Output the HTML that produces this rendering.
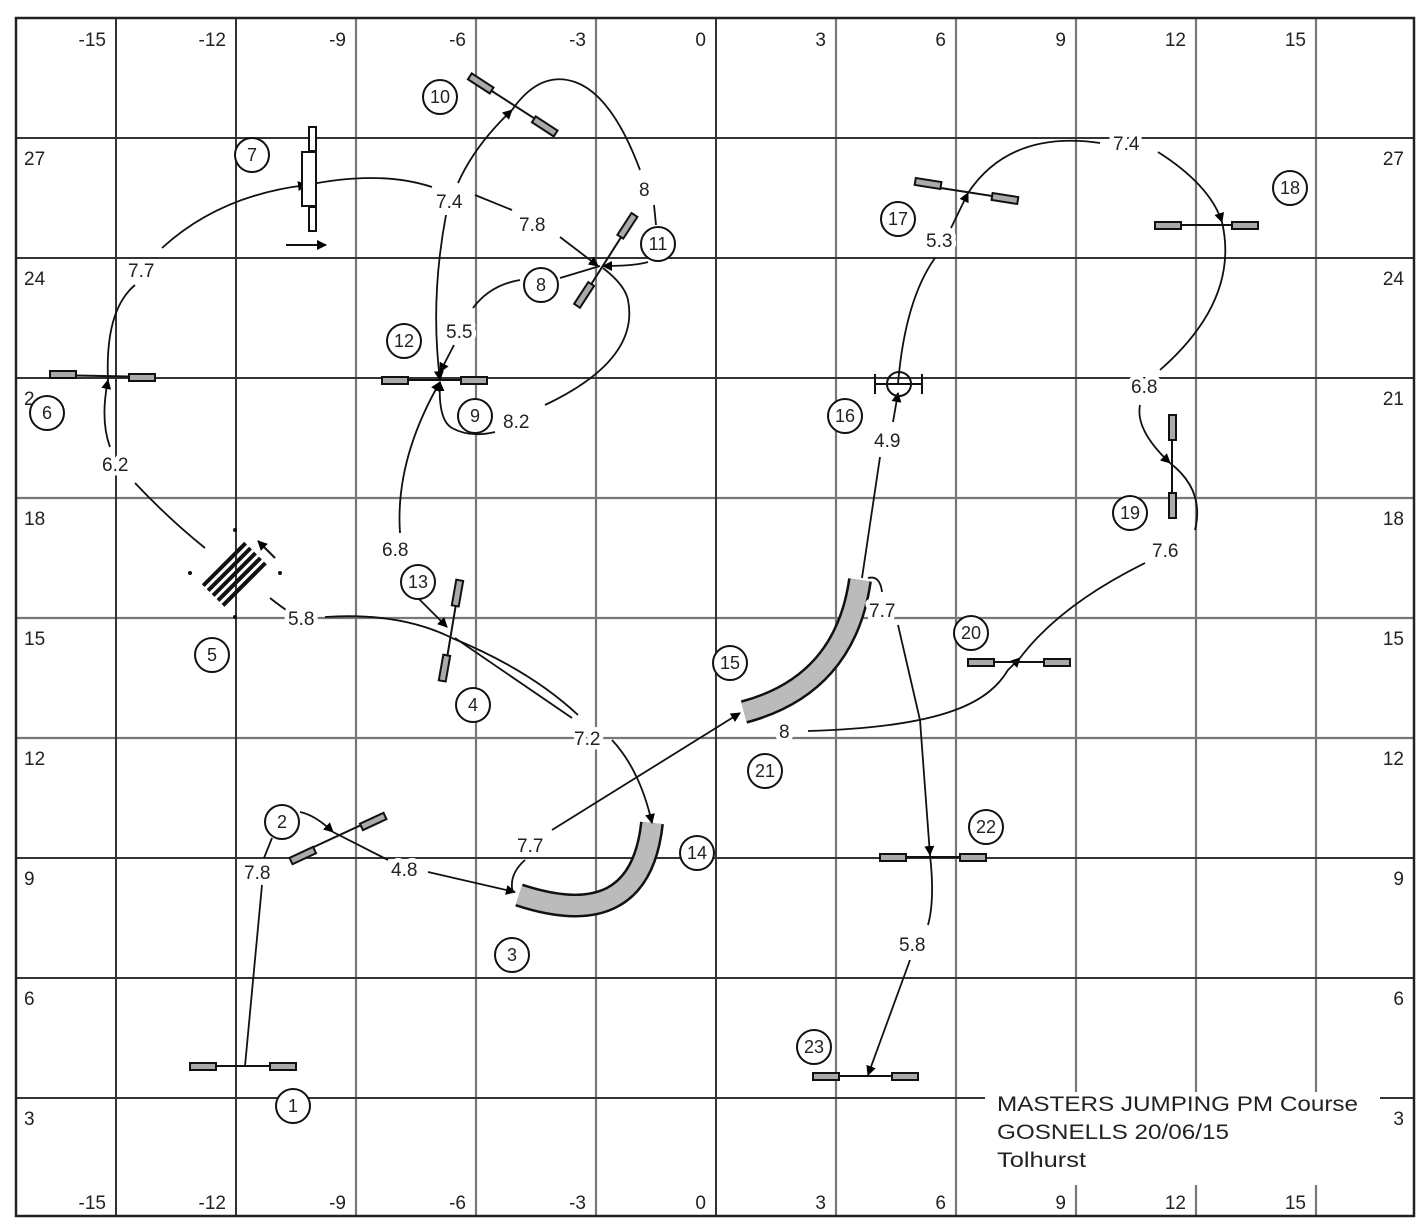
<!DOCTYPE html>
<html><head><meta charset="utf-8"><style>
html,body{margin:0;padding:0;background:#fff}
svg{display:block}
text{font-family:"Liberation Sans",sans-serif;fill:#222}
.ax{font-size:19px}
.lb{font-size:19px;stroke:#fff;stroke-width:9px;paint-order:stroke;stroke-linejoin:round}
.cn{font-size:18px;text-anchor:middle}
</style></head><body>
<svg width="1428" height="1230" viewBox="0 0 1428 1230" xmlns="http://www.w3.org/2000/svg">
<defs>
<marker id="a" markerWidth="10" markerHeight="10" refX="9" refY="5" orient="auto" markerUnits="userSpaceOnUse"><path d="M0,0 L10,5 L0,10 z" fill="#000"/></marker>
</defs>
<rect width="1428" height="1230" fill="#fff"/>
<g stroke="#777" stroke-width="2.2" fill="none">
<line x1="356" y1="18" x2="356" y2="1216"/><line x1="476" y1="18" x2="476" y2="1216"/><line x1="596" y1="18" x2="596" y2="1216"/>
<line x1="836" y1="18" x2="836" y2="1216"/><line x1="956" y1="18" x2="956" y2="1216"/>
<line x1="1076" y1="18" x2="1076" y2="1092"/><line x1="1196" y1="18" x2="1196" y2="1092"/><line x1="1316" y1="18" x2="1316" y2="1092"/>
<line x1="1076" y1="1185" x2="1076" y2="1216"/><line x1="1196" y1="1185" x2="1196" y2="1216"/><line x1="1316" y1="1185" x2="1316" y2="1216"/>
<line x1="16" y1="498" x2="1414" y2="498"/><line x1="16" y1="618" x2="1414" y2="618"/><line x1="16" y1="738" x2="1414" y2="738"/>
</g>
<g stroke="#333" stroke-width="2" fill="none">
<line x1="116" y1="18" x2="116" y2="1216"/><line x1="236" y1="18" x2="236" y2="1216"/><line x1="716" y1="18" x2="716" y2="1216"/>
<line x1="16" y1="138" x2="1414" y2="138"/><line x1="16" y1="258" x2="1414" y2="258"/><line x1="16" y1="378" x2="1414" y2="378"/>
<line x1="16" y1="858" x2="1414" y2="858"/><line x1="16" y1="978" x2="1414" y2="978"/>
<line x1="16" y1="1098" x2="985" y2="1098"/><line x1="1380" y1="1098" x2="1414" y2="1098"/>
<rect x="16" y="18" width="1398" height="1198" stroke="#222" stroke-width="2.5"/>
</g>
<g class="ax" text-anchor="end">
<text x="106" y="46">-15</text><text x="226" y="46">-12</text><text x="346" y="46">-9</text><text x="466" y="46">-6</text><text x="586" y="46">-3</text><text x="706" y="46">0</text><text x="826" y="46">3</text><text x="946" y="46">6</text><text x="1066" y="46">9</text><text x="1186" y="46">12</text><text x="1306" y="46">15</text>
<text x="106" y="1209">-15</text><text x="226" y="1209">-12</text><text x="346" y="1209">-9</text><text x="466" y="1209">-6</text><text x="586" y="1209">-3</text><text x="706" y="1209">0</text><text x="826" y="1209">3</text><text x="946" y="1209">6</text><text x="1066" y="1209">9</text><text x="1186" y="1209">12</text><text x="1306" y="1209">15</text>
<text x="1404" y="165">27</text><text x="1404" y="285">24</text><text x="1404" y="405">21</text><text x="1404" y="525">18</text><text x="1404" y="645">15</text><text x="1404" y="765">12</text><text x="1404" y="885">9</text><text x="1404" y="1005">6</text><text x="1404" y="1125">3</text>
</g>
<g class="ax">
<text x="24" y="165">27</text><text x="24" y="285">24</text><text x="24" y="405">2</text><text x="24" y="525">18</text><text x="24" y="645">15</text><text x="24" y="765">12</text><text x="24" y="885">9</text><text x="24" y="1005">6</text><text x="24" y="1125">3</text>
</g>
<g fill="none" stroke-linecap="butt">
<path d="M519 895 Q 640 935 652 823" stroke="#111" stroke-width="24"/>
<path d="M519 895 Q 640 935 652 823" stroke="#bbb" stroke-width="19"/>
<path d="M744 712 Q 845 685 860 580" stroke="#111" stroke-width="24"/>
<path d="M744 712 Q 845 685 860 580" stroke="#bbb" stroke-width="19"/>
</g>
<g fill="none" stroke="#111" stroke-width="1.8">
<path d="M245 1066 L262 885"/><path d="M264 858 L272 838"/>
<path d="M300 812 Q315 815 333 832" marker-end="url(#a)"/><path d="M333 832 L388 860"/>
<path d="M428 872 L515 892" marker-end="url(#a)"/>
<path d="M513 893 Q508 875 525 860"/>
<path d="M552 830 L740 713" marker-end="url(#a)"/>
<path d="M270 598 Q280 606 292 614"/>
<path d="M325 617 Q400 612 452 638"/><path d="M452 638 Q530 670 578 715"/>
<path d="M418 598 L447 627" marker-end="url(#a)"/>
<path d="M455 638 L572 718"/>
<path d="M612 740 Q640 770 652 823" marker-end="url(#a)"/>
<path d="M400 533 Q395 460 440 382" marker-end="url(#a)"/>
<path d="M808 731 C950 727 990 700 1008 670 L1020 658" marker-end="url(#a)"/><path d="M1020 658 Q1060 605 1145 563"/>
<path d="M862 578 L880 457"/><path d="M893 422 L898 393" marker-end="url(#a)"/>
<path d="M898 384 Q905 300 935 258"/><path d="M951 228 L968 193" marker-end="url(#a)"/>
<path d="M968 193 Q1010 130 1100 143"/>
<path d="M1158 152 Q1210 185 1222 222" marker-end="url(#a)"/><path d="M1222 222 Q1240 300 1160 370"/>
<path d="M1140 405 Q1135 430 1170 463" marker-end="url(#a)"/><path d="M1170 463 Q1205 490 1195 530"/>
<path d="M868 578 Q880 575 882 592"/>
<path d="M898 625 L920 720 L930 855" marker-end="url(#a)"/><path d="M930 855 Q935 900 928 925"/>
<path d="M910 960 L868 1075" marker-end="url(#a)"/>
<path d="M110 447 Q100 420 108 380" marker-end="url(#a)"/><path d="M108 380 Q105 310 135 285"/>
<path d="M162 248 Q220 195 307 185" marker-end="url(#a)"/><path d="M307 185 Q380 170 432 187"/>
<path d="M475 195 L512 210"/><path d="M560 237 L598 266" marker-end="url(#a)"/>
<path d="M458 183 Q475 145 512 110" marker-end="url(#a)"/><path d="M512 110 Q540 70 575 82 Q612 95 640 170"/>
<path d="M446 215 Q430 300 440 380" marker-end="url(#a)"/>
<path d="M654 205 L656 225"/><path d="M648 262 Q635 266 603 266" marker-end="url(#a)"/>
<path d="M603 268 Q625 285 628 300 Q640 360 545 405"/>
<path d="M495 432 Q470 438 452 428 Q438 420 440 382" marker-end="url(#a)"/>
<path d="M454 345 L440 372" marker-end="url(#a)"/>
<path d="M473 308 Q490 285 520 280"/><path d="M560 278 L600 266"/>
<path d="M135 483 Q170 520 205 548"/>
</g>
<g stroke="#111" stroke-width="2" fill="#aaa">
<line x1="190" y1="1066" x2="296" y2="1066"/><rect x="190" y="1063" width="26" height="7"/><rect x="270" y="1063" width="26" height="7"/>
<line x1="290" y1="858" x2="385" y2="814"/><rect x="290" y="852" width="26" height="7" transform="rotate(-25 303 856)"/><rect x="360" y="818" width="26" height="7" transform="rotate(-25 373 821)"/>
<line x1="443" y1="682" x2="460" y2="580"/><rect x="454" y="580" width="7" height="26" transform="rotate(10 457 593)"/><rect x="441" y="655" width="7" height="26" transform="rotate(10 444 668)"/>
<line x1="50" y1="375" x2="155" y2="377"/><rect x="50" y="371" width="26" height="7"/><rect x="129" y="374" width="26" height="7"/>
<line x1="382" y1="380" x2="487" y2="380"/><rect x="382" y="377" width="26" height="7"/><rect x="461" y="377" width="26" height="7"/>
<line x1="470" y1="77" x2="557" y2="133"/><rect x="468" y="80" width="26" height="7" transform="rotate(33 481 83)"/><rect x="532" y="123" width="26" height="7" transform="rotate(33 545 126)"/>
<line x1="578" y1="305" x2="632" y2="220"/><rect x="618" y="228" width="26" height="7" transform="rotate(-57 624 232)"/><rect x="572" y="292" width="26" height="7" transform="rotate(-57 584 296)"/>
<line x1="915" y1="184" x2="1018" y2="200"/><rect x="915" y="180" width="26" height="7" transform="rotate(9 928 184)"/><rect x="992" y="195" width="26" height="7" transform="rotate(9 1005 198)"/>
<line x1="1155" y1="225" x2="1258" y2="225"/><rect x="1155" y="222" width="26" height="7"/><rect x="1232" y="222" width="26" height="7"/>
<line x1="1172" y1="415" x2="1172" y2="517"/><rect x="1169" y="415" width="7" height="25"/><rect x="1169" y="493" width="7" height="25"/>
<line x1="968" y1="662" x2="1070" y2="662"/><rect x="968" y="659" width="26" height="7"/><rect x="1044" y="659" width="26" height="7"/>
<line x1="880" y1="857" x2="986" y2="857"/><rect x="880" y="854" width="26" height="7"/><rect x="960" y="854" width="26" height="7"/>
<line x1="813" y1="1076" x2="918" y2="1076"/><rect x="813" y="1073" width="26" height="7"/><rect x="892" y="1073" width="26" height="7"/>
</g>
<g stroke="#111" stroke-width="2" fill="#fff">
<rect x="309" y="127" width="7" height="24"/><rect x="302" y="152" width="14" height="54"/><rect x="309" y="207" width="7" height="24"/>
</g>
<path d="M286 245 L326 245" stroke="#111" stroke-width="2" marker-end="url(#a)"/>
<g stroke="#111" stroke-width="2" fill="none">
<circle cx="899" cy="384" r="12"/><line x1="875" y1="384" x2="922" y2="384"/><line x1="875" y1="374" x2="875" y2="394"/><line x1="922" y1="374" x2="922" y2="394"/>
</g>
<g transform="rotate(-45 235 575)" stroke="#111" stroke-width="4">
<line x1="205" y1="560" x2="265" y2="560"/><line x1="205" y1="567" x2="265" y2="567"/><line x1="205" y1="574" x2="265" y2="574"/><line x1="205" y1="581" x2="265" y2="581"/><line x1="205" y1="588" x2="265" y2="588"/>
</g>
<g fill="#111"><circle cx="235" cy="530" r="2"/><circle cx="190" cy="573" r="2"/><circle cx="280" cy="573" r="2"/><circle cx="235" cy="617" r="2"/></g>
<path d="M275 558 L258 541" stroke="#111" stroke-width="2" marker-end="url(#a)"/>
<g class="lb">
<text x="244" y="879">7.8</text><text x="391" y="876">4.8</text><text x="517" y="852">7.7</text>
<text x="288" y="625">5.8</text><text x="574" y="745">7.2</text><text x="382" y="556">6.8</text>
<text x="102" y="471">6.2</text><text x="128" y="277">7.7</text><text x="436" y="208">7.4</text><text x="519" y="231">7.8</text>
<text x="639" y="196">8</text><text x="446" y="338">5.5</text><text x="503" y="428">8.2</text>
<text x="779" y="738">8</text><text x="869" y="617">7.7</text><text x="874" y="447">4.9</text><text x="926" y="247">5.3</text>
<text x="1113" y="150">7.4</text><text x="1131" y="393">6.8</text><text x="1152" y="557">7.6</text><text x="899" y="951">5.8</text>
</g>
<g stroke="#111" stroke-width="2" fill="#fff">
<circle cx="293" cy="1106" r="17"/><circle cx="282" cy="822" r="17"/><circle cx="512" cy="955" r="17"/><circle cx="473" cy="705" r="17"/>
<circle cx="212" cy="655" r="17"/><circle cx="47" cy="413" r="17"/><circle cx="252" cy="155" r="17"/><circle cx="541" cy="285" r="17"/>
<circle cx="475" cy="416" r="17"/><circle cx="440" cy="97" r="17"/><circle cx="658" cy="244" r="17"/><circle cx="404" cy="341" r="17"/>
<circle cx="418" cy="582" r="17"/><circle cx="697" cy="853" r="17"/><circle cx="730" cy="663" r="17"/><circle cx="845" cy="416" r="17"/>
<circle cx="898" cy="219" r="17"/><circle cx="1290" cy="188" r="17"/><circle cx="1130" cy="513" r="17"/><circle cx="971" cy="633" r="17"/>
<circle cx="765" cy="771" r="17"/><circle cx="986" cy="827" r="17"/><circle cx="814" cy="1047" r="17"/>
</g>
<g class="cn">
<text x="293" y="1112">1</text><text x="282" y="828">2</text><text x="512" y="961">3</text><text x="473" y="711">4</text>
<text x="212" y="661">5</text><text x="47" y="419">6</text><text x="252" y="161">7</text><text x="541" y="291">8</text>
<text x="475" y="422">9</text><text x="440" y="103">10</text><text x="658" y="250">11</text><text x="404" y="347">12</text>
<text x="418" y="588">13</text><text x="697" y="859">14</text><text x="730" y="669">15</text><text x="845" y="422">16</text>
<text x="898" y="225">17</text><text x="1290" y="194">18</text><text x="1130" y="519">19</text><text x="971" y="639">20</text>
<text x="765" y="777">21</text><text x="986" y="833">22</text><text x="814" y="1053">23</text>
</g>
<g style="font-size:21px">
<text x="997" y="1111" textLength="361" lengthAdjust="spacingAndGlyphs">MASTERS JUMPING PM Course</text>
<text x="997" y="1139" textLength="232" lengthAdjust="spacingAndGlyphs">GOSNELLS 20/06/15</text>
<text x="997" y="1167" textLength="89" lengthAdjust="spacingAndGlyphs">Tolhurst</text>
</g>
</svg>
</body></html>
